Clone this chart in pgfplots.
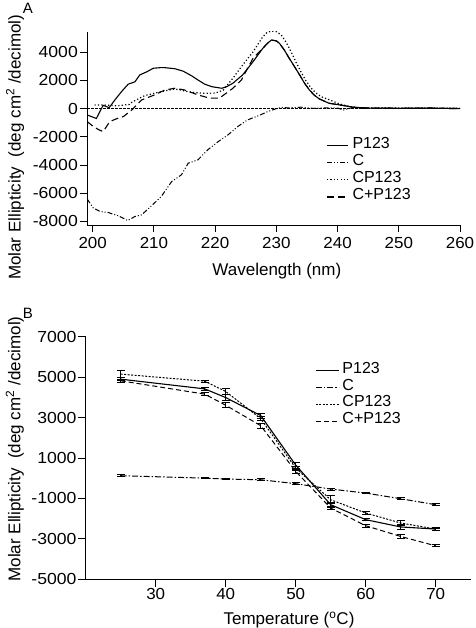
\documentclass[border=0pt]{standalone}
\usepackage{fontspec}
\setmainfont{Liberation Sans}
\usepackage{graphicx}
\usepackage{pgfplots}
\pgfplotsset{compat=1.18}

\pgfplotstableread{
t v e
25 4900 80
37 4420 80
40 3990 150
45 3100 120
50 650 150
55 -1310 120
60 -2050 60
65 -2410 100
70 -2515 60
}\BPone
\pgfplotstableread{
t v e
25 124 40
37 5 40
40 -40 40
45 -75 40
50 -270 40
55 -535 50
60 -735 40
65 -1015 40
70 -1310 50
}\BC
\pgfplotstableread{
t v e
25 5150 180
37 4800 50
40 4290 150
45 2950 100
50 500 100
55 -1065 200
60 -1720 80
65 -2215 120
70 -2515 50
}\BCP
\pgfplotstableread{
t v e
25 4820 80
37 4160 60
40 3610 120
45 2600 120
50 340 100
55 -1475 80
60 -2350 80
65 -2880 80
70 -3345 50
}\BCpP

\tikzset{
  sA/.style={line width=1.1pt},
  cA/.style={line width=1.0pt, dash pattern=on 5pt off 2pt on 1pt off 2pt on 1pt off 2pt},
  cpA/.style={line width=1.2pt, dash pattern=on 1.2pt off 2.2pt},
  cppA/.style={line width=1.1pt, dash pattern=on 7pt off 4pt},
  sB/.style={line width=1.1pt},
  cB/.style={line width=1.0pt, dash pattern=on 6pt off 2pt on 1.5pt off 2pt},
  cpB/.style={line width=1.0pt, dash pattern=on 2pt off 1.5pt},
  cppB/.style={line width=1.0pt, dash pattern=on 5pt off 3pt},
}

\pgfplotsset{
  common/.style={
    scale only axis,
    axis lines=left,
    axis line style={-, line width=0.9pt},
    tick align=outside,
    major tick length=7pt,
    tick style={line width=0.9pt, black},
    minor tick num=0,
    scaled ticks=false,
    /pgf/number format/assume math mode=true,
    /pgf/number format/set thousands separator={},
    ticklabel style={font=\fontsize{16}{18}\selectfont},
    xticklabel={\scalebox{1.06}[1]{\pgfmathprintnumber{\tick}}},
    yticklabel={\scalebox{1.1}[1]{\pgfmathprintnumber{\tick}}},
    yticklabel style={inner xsep=2pt},
    xticklabel style={inner ysep=2pt},
    label style={font=\fontsize{17}{19}\selectfont},
    legend cell align=left,
  },
  errB/.style={error bars/.cd, y dir=both, y explicit,
    error bar style={solid, line width=0.9pt},
    error mark options={rotate=90, solid, line width=0.9pt, mark size=4pt}},
}

\begin{document}
\begin{tikzpicture}
\useasboundingbox (0pt,0pt) rectangle (475pt,-628pt);
\node[font=\fontsize{15}{17}\selectfont] at (28pt,-8pt) {A};
\node[font=\fontsize{15}{17}\selectfont] at (28pt,-313pt) {B};

\begin{axis}[common,
  at={(87pt,-225pt)}, anchor=south west,
  width=373pt, height=193pt,
  xmin=199.07, xmax=260, ymin=-8250, ymax=5430,
  xtick={200,210,...,260}, ytick={-8000,-6000,...,4000},
  xticklabel style={inner ysep=5.5pt},
  xlabel={Wavelength (nm)},
  ylabel={Molar Ellipticity~~(deg cm\textsuperscript{2} /decimol)},
  xlabel style={at={(axis description cs:0.509,-0.24)}, anchor=center},
  ylabel style={at={(axis description cs:-0.193,0.402)}, anchor=center, rotate=0},
  legend image code/.code={\draw[#1] (0pt,0pt) -- (21pt,0pt);},
  legend style={at={(axis description cs:0.641,0.458)}, anchor=north west,
    draw=none, fill=none, inner sep=0pt, row sep=0pt, column sep=4pt,
    font=\fontsize{16}{18}\selectfont,
    nodes={inner sep=0pt, text height=11.5pt, text depth=5.7pt}},
]
\addplot[sA] coordinates {
(199.1,-450) (200.6,-700) (201.7,230) (202.7,70) (203.6,600) (204.7,1200)
(205.8,1730) (206.9,1900) (207.7,2390) (208.8,2600) (209.9,2860) (211.0,2900)
(211.8,2900) (213.4,2830) (214.8,2650) (216.1,2340) (217.3,2000) (218.3,1730)
(219.5,1550) (221.1,1440) (222.0,1580) (222.9,1800) (224.5,2390) (226.2,3330)
(227.8,4280) (228.6,4650) (229.2,4860) (230.0,4800) (230.5,4630) (231.3,4150)
(232.1,3570) (233.0,2950) (233.8,2390) (234.6,1800) (235.4,1320) (236.2,950)
(237.0,690) (238.6,380) (240.8,230) (242.5,100) (245,40) (250,20) (255,30) (260,0)
};
\addlegendentry{P123}
\addplot[cA] coordinates {
(199.1,-6410) (200.1,-7050) (201.2,-7290) (202.5,-7360) (204.2,-7600) (205.7,-7930)
(206.9,-7650) (208.0,-7530) (209.6,-6890) (211.2,-6230) (212.9,-5170) (214.5,-4690)
(215.6,-3870) (217.2,-3630) (218.8,-2920) (220.5,-2340) (222.1,-1860) (223.7,-1270)
(225.3,-800) (227.0,-520) (228.6,-210) (230.2,30) (231,80) (232,50) (234,100)
(236,20) (238,60) (240,40) (241,-100) (242,30) (245,20) (248,50) (250,30) (253,40)
(255,60) (257,30) (260,20)
};
\addlegendentry{C}
\addplot[cpA] coordinates {
(200.3,250) (202,250) (204,200) (206.0,300) (206.4,450) (207.5,700) (208.5,920)
(210,1080) (211.2,1200) (212.3,1300) (213.4,1390) (214.5,1300) (215.6,1200)
(217.0,1120) (218.3,1090) (220.0,1100) (221.3,1300) (222.9,2150) (224.5,3090)
(226.2,4030) (227.8,5100) (228.5,5400) (229.2,5500) (230.0,5450) (230.8,5220)
(231.6,4700) (232.4,4030) (233.2,3300) (234.0,2620) (234.8,2000) (235.7,1440)
(236.5,1100) (237.3,850) (238.7,620) (240.3,330) (242,150) (243.5,50) (250,30) (260,20)
};
\addlegendentry{CP123}
\addplot[cppA] coordinates {
(199.1,-920) (200.1,-1270) (201.0,-1500) (201.7,-1630) (202.8,-920) (204,-700)
(205,-570) (206.4,-90) (208,615) (210.1,970) (211.8,1320) (213.4,1440) (215,1320)
(217.2,970) (219.1,740) (220.7,740) (222.9,1440) (224.3,2030) (225.3,2860)
(226.2,3570) (227.8,4280) (228.6,4650) (229.2,4860) (230.0,4800) (230.5,4630)
(231.3,4150) (232.1,3570) (233.0,2950) (233.8,2390) (234.6,1800) (235.4,1320)
(236.2,950) (237.0,690) (238.6,380) (240.8,230) (242.5,100) (245,40) (250,20)
(255,30) (260,0)
};
\addlegendentry{C+P123}
\addplot[line width=0.9pt, dash pattern=on 2.5pt off 1.5pt, forget plot] coordinates {(199.07,0) (260,0)};
\end{axis}

\begin{axis}[common,
  at={(85.7pt,-579.3pt)}, anchor=south west,
  width=385pt, height=242.6pt,
  xmin=20, xmax=75, ymin=-5000, ymax=7000,
  xtick={30,40,...,70}, ytick={-5000,-3000,...,7000},
  major tick length=8pt,
  yticklabel style={inner xsep=1pt},
  xticklabel style={inner ysep=1pt},
  xlabel={Temperature (\textsuperscript{o}C)},
  ylabel={Molar Ellipticity~~(deg cm\textsuperscript{2} /decimol)},
  xlabel style={at={(axis description cs:0.528,-0.168)}, anchor=center},
  ylabel style={at={(axis description cs:-0.184,0.537)}, anchor=center, rotate=0},
  legend image code/.code={\draw[#1] (0pt,0pt) -- (23pt,0pt);},
  legend style={at={(axis description cs:0.596,0.897)}, anchor=north west,
    draw=none, fill=none, inner sep=0pt, row sep=0pt, column sep=3pt,
    font=\fontsize{16}{18}\selectfont,
    nodes={inner sep=0pt, text height=11.3pt, text depth=5.6pt}},
]
\addplot[sB, errB] table[x=t, y=v, y error=e] {\BPone};
\addlegendentry{P123}
\addplot[cB, errB] table[x=t, y=v, y error=e] {\BC};
\addlegendentry{C}
\addplot[cpB, errB] table[x=t, y=v, y error=e] {\BCP};
\addlegendentry{CP123}
\addplot[cppB, errB] table[x=t, y=v, y error=e] {\BCpP};
\addlegendentry{C+P123}
\end{axis}
\end{tikzpicture}
\end{document}
